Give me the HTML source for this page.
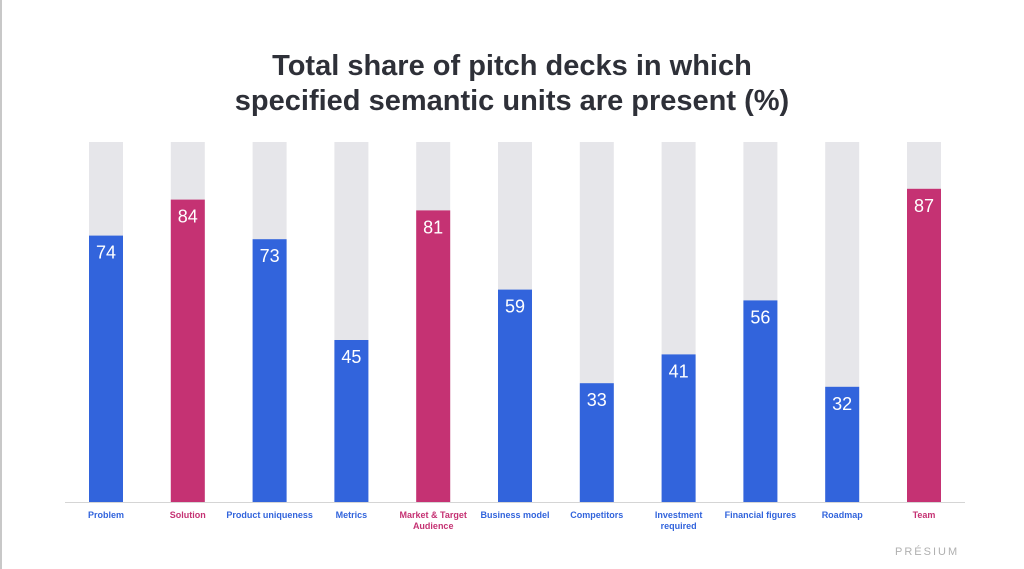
<!DOCTYPE html>
<html><head><meta charset="utf-8"><style>
body{margin:0;background:#fff;width:1024px;height:569px;overflow:hidden;font-family:"Liberation Sans",sans-serif;position:relative}
#frame{position:absolute;left:0;top:0;width:2px;height:569px;background:#c8c8c8}
h1{position:absolute;left:0;width:1024px;top:49px;margin:0;text-align:center;font-size:29px;line-height:35px;color:#2e3038;font-weight:bold}
#logo{position:absolute;left:895px;top:546px;font-size:11px;letter-spacing:2px;color:#b0b0b0}
</style></head><body>
<div id="frame"></div>
<h1>Total share of pitch decks in which<br>specified semantic units are present (%)</h1>
<svg id="chart" width="1024" height="569" style="position:absolute;left:0;top:0"></svg>
<div id="logo">PRÉSIUM</div>
<script>
const categories=["Problem","Solution","Product uniqueness","Metrics","Market & Target|Audience","Business model","Competitors","Investment|required","Financial figures","Roadmap","Team"];
const values=[74,84,73,45,81,59,33,41,56,32,87];
const highlighted=[false,true,false,false,true,false,false,false,false,false,true];
const svg=document.getElementById('chart');
const NS='http://www.w3.org/2000/svg';
const base=502,top0=142,x0=106,step=81.8,bw=34;
const y=v=>base-(v/100)*(base-top0);
const xc=i=>x0+i*step;
function mk(t,a){const e=document.createElementNS(NS,t);for(const k in a)e.setAttribute(k,a[k]);svg.appendChild(e);return e;}
const ax=mk('line',{x1:65,x2:965,y1:base+0.5,y2:base+0.5,stroke:'#d5d5d5','stroke-width':1});


categories.forEach((c,i)=>{
  const col=highlighted[i]?'#c53273':'#3264dc';
  const bg=mk('rect',{x:xc(i)-bw/2,y:top0,width:bw,height:base-top0,fill:'#e6e6ea'});
  
  
  const b=mk('rect',{x:xc(i)-bw/2,y:y(values[i]),width:bw,height:base-y(values[i]),fill:col});
  
  
  const t=mk('text',{x:xc(i),y:y(values[i])+23,'text-anchor':'middle',fill:'#fff','font-size':18,'font-family':'Liberation Sans, sans-serif'});
  t.textContent=values[i];
  
  
  c.split('|').forEach((ln,j)=>{
    const l=mk('text',{x:xc(i),y:518+j*11,'text-anchor':'middle',fill:col,'font-size':9,'font-weight':'bold','font-family':'Liberation Sans, sans-serif'});
    l.textContent=ln;
    
    
  });
});
</script>
</body></html>
